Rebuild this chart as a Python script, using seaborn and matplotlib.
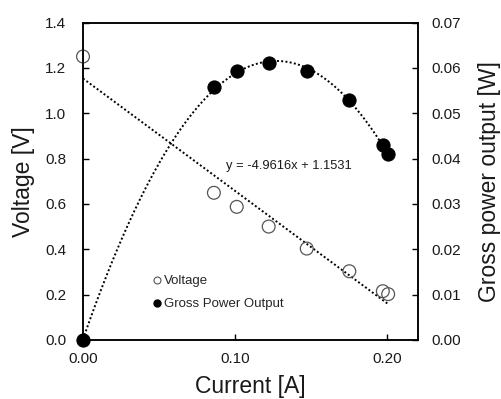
import numpy as np
import pandas as pd
import matplotlib
matplotlib.use("Agg")
import matplotlib.pyplot as plt
import seaborn as sns
from matplotlib.lines import Line2D

# === Data ===
current = [0.0, 0.086, 0.101, 0.122, 0.147, 0.175, 0.197, 0.2005]
voltage = [1.25, 0.649, 0.587, 0.500, 0.403, 0.303, 0.215, 0.202]
power = [0.0, 0.0557, 0.0592, 0.0611, 0.0592, 0.0530, 0.0430, 0.0409]

df = pd.DataFrame({"current": current, "voltage": voltage, "power": power})

sns.set_theme(style="white")
plt.rcParams['font.family'] = ['Liberation Sans', 'DejaVu Sans']

fig = plt.figure(figsize=(5.01, 3.99), dpi=100)
ax = fig.add_axes([0.1657, 0.148, 0.6683, 0.7956])
ax2 = ax.twinx()

# === Voltage (open circles) + linear trendline ===
sns.scatterplot(data=df, x="current", y="voltage", ax=ax, marker="o", s=85,
                facecolor="none", edgecolor="#555555", linewidth=0.9, zorder=3,
                clip_on=False)
slope, intercept = -4.9616, 1.1531
xl = np.linspace(0, 0.2, 50)
ax.plot(xl, slope * xl + intercept, color="black", linestyle=(0, (1, 1.2)), linewidth=1.4)
ax.text(0.094, 0.767, "y = -4.9616x + 1.1531", fontsize=9.3, ha="left", va="center",
        color="#1a1a1a")

# === Power (filled circles) + polynomial trendline ===
sns.scatterplot(data=df, x="current", y="power", ax=ax2, marker="o", s=90,
                color="black", edgecolor="black", zorder=4, clip_on=False)
coef = np.polyfit(df["current"], df["power"], 2)
xp = np.linspace(0, 0.2005, 100)
ax2.plot(xp, np.polyval(coef, xp), color="black", linestyle=(0, (1, 1.2)), linewidth=1.4)

# === Axes styling ===
ax.set_xlim(0, 0.22)
ax.set_ylim(0, 1.4)
ax2.set_ylim(0, 0.07)
ax.set_xticks([0.0, 0.1, 0.2])
ax.set_xticklabels(["0.00", "0.10", "0.20"])
ax.set_yticks(np.arange(0, 1.41, 0.2))
ax.set_yticklabels([f"{v:.1f}" for v in np.arange(0, 1.41, 0.2)])
ax2.set_yticks(np.arange(0, 0.071, 0.01))
ax2.set_yticklabels([f"{v:.2f}" for v in np.arange(0, 0.071, 0.01)])

ax.set_xlabel("Current [A]", fontsize=16.5, color="#1a1a1a")
ax.set_ylabel("Voltage [V]", fontsize=16.5, color="#1a1a1a")
ax2.set_ylabel("Gross power output [W]", fontsize=16.5, color="#1a1a1a")
ax.yaxis.set_label_coords(-0.143, 0.5)
ax2.yaxis.set_label_coords(1.179, 0.5)
ax.xaxis.set_label_coords(0.5, -0.11)

for a in (ax, ax2):
    a.tick_params(direction="in", length=4, width=1, labelsize=11, colors="black",
                  labelcolor="#1a1a1a")
    for sp in a.spines.values():
        sp.set_color("black")
        sp.set_linewidth(1.1)
ax.tick_params(axis="y", left=True, right=False, pad=12)
ax.tick_params(axis="x", bottom=True, pad=9)
ax2.tick_params(axis="y", right=True, left=False, pad=10)

# === Legend ===
handles = [
    Line2D([], [], marker="o", linestyle="none", markersize=5,
           markerfacecolor="none", markeredgecolor="#555555", markeredgewidth=0.8),
    Line2D([], [], marker="o", linestyle="none", markersize=5,
           markerfacecolor="black", markeredgecolor="black"),
]
ax2.legend(handles, ["Voltage", "Gross Power Output"], loc="upper left",
           bbox_to_anchor=(0.19, 0.225), frameon=False, fontsize=9.5,
           handlelength=0.6, handletextpad=0.2, labelspacing=0.8, borderpad=0)

fig.savefig("out.png", dpi=100)
